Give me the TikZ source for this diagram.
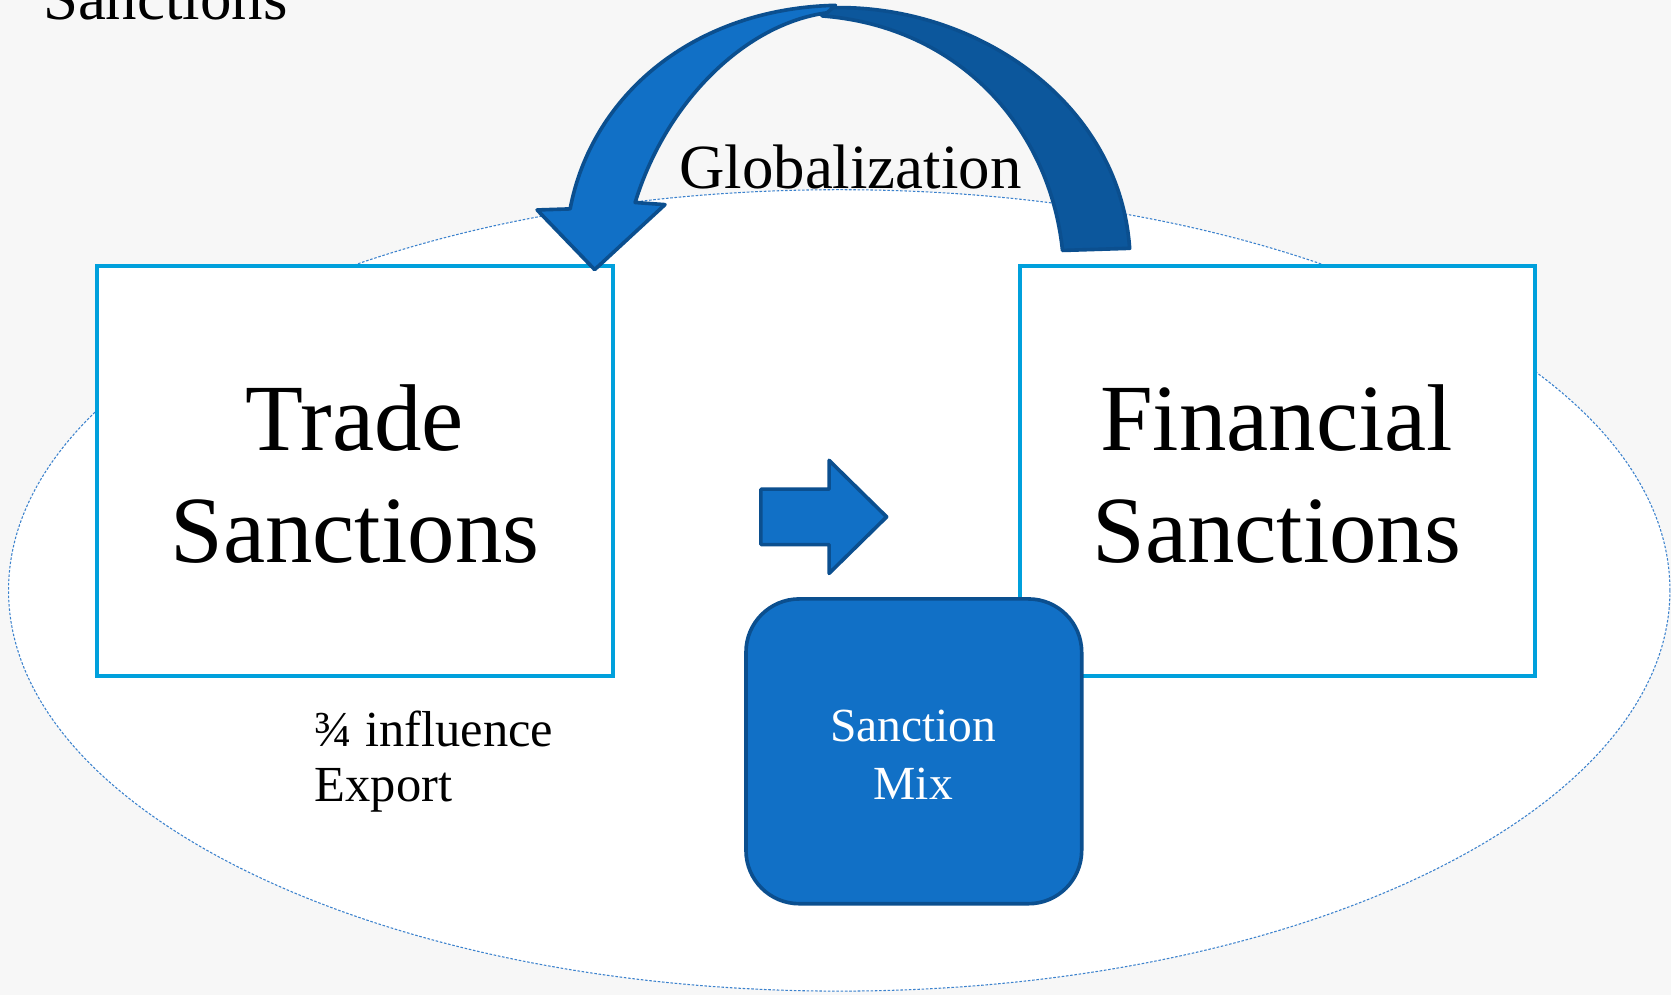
\documentclass[tikz,border=0pt]{standalone}
\usepackage{fontspec}
\setmainfont{Liberation Serif}
\usetikzlibrary{shapes.geometric}
\definecolor{boxblue}{RGB}{0,160,220}
\definecolor{arrlight}{RGB}{17,112,198}
\definecolor{arrdark}{RGB}{12,87,156}
\definecolor{arredge}{RGB}{11,79,143}
\definecolor{ellblue}{RGB}{60,130,205}
\definecolor{bggray}{RGB}{247,247,247}
\begin{document}
\begin{tikzpicture}[x=0.5pt,y=-0.5pt]
\tikzset{
  sbox/.style={draw=boxblue, line width=1.9pt, fill=white, minimum width=242pt, minimum height=192pt, inner sep=0pt},
  bigtxt/.style={inner sep=0pt, anchor=base, font=\fontsize{44.5pt}{53pt}\selectfont},
  midtxt/.style={inner sep=0pt, font=\fontsize{29.5pt}{35pt}\selectfont},
  mixtxt/.style={inner sep=0pt, anchor=base, text=white, font=\fontsize{22.3pt}{27pt}\selectfont},
  smalltxt/.style={inner sep=0pt, anchor=base west, font=\fontsize{23.7pt}{28pt}\selectfont},
  blockarrow/.style={draw=arredge, line width=1.7pt, line join=round},
}
% canvas
\clip (0,0) rectangle (1568,934);
\fill[bggray] (0,0) rectangle (1568,934);
\useasboundingbox (0,0) rectangle (1568,934);

% ellipse
\node[draw=ellblue, fill=white, line width=0.5pt, dash pattern=on 1.2pt off 0.8pt,
      ellipse, minimum width=779.5pt, minimum height=376pt, inner sep=0pt] (ell) at (787.5,554) {};

% boxes
\node[sbox] (trade) at (333,442) {};
\node[sbox, minimum width=241.5pt] (fin) at (1198.5,442) {};

% small right arrow
\filldraw[blockarrow, fill=arrlight] (714,459) -- (778,459) -- (778,432) -- (832,485) -- (778,538) -- (778,511) -- (714,511) -- cycle;

% sanction mix box
\node[draw=arredge, fill=arrlight, line width=1.7pt, rounded corners=25pt,
      minimum width=157.5pt, minimum height=143pt, inner sep=0pt] (mix) at (857.5,705) {};

% curved arrow: dark back part
\filldraw[blockarrow, fill=arrdark]
  (765,8) .. controls (905,-3) and (1050,90) .. (1060,233)
  -- (997,235) .. controls (985,120) and (900,25) .. (772,15) -- cycle;
% curved arrow: light front part with head
\filldraw[blockarrow, fill=arrlight]
  (535,196) .. controls (555,90) and (650,8) .. (784,5)
  -- (776,12) .. controls (700,22) and (625,95) .. (596,190)
  -- (624,192) -- (558,253) -- (504,197) -- cycle;

% texts
\node[midtxt, anchor=base west] (title) at (40,18) {Sanctions};
\node[midtxt, anchor=base] (glob) at (798,177) {Globalization};
\node[bigtxt] (t1) at (333,423) {Trade};
\node[bigtxt] (t2) at (333,528) {Sanctions};
\node[bigtxt] (f1) at (1198,423) {Financial};
\node[bigtxt] (f2) at (1198,528) {Sanctions};
\node[mixtxt] (m1) at (857,696) {Sanction};
\node[mixtxt] (m2) at (857,750) {Mix};
\node[smalltxt] (s1) at (295,700) {¾ influence};
\node[smalltxt] (s2) at (295,752) {Export};
\end{tikzpicture}
\end{document}
